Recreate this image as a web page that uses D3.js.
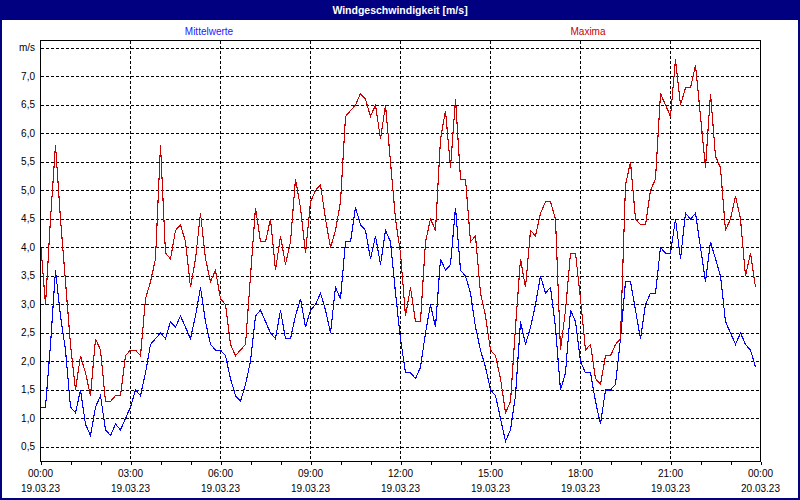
<!DOCTYPE html>
<html><head><meta charset="utf-8">
<script src="https://cdn.jsdelivr.net/npm/d3@7"></script>
<style>
html,body{margin:0;padding:0;background:#fff;}
svg{display:block;font-family:"Liberation Sans",Arial,sans-serif;}
</style></head>
<body>
<svg id="c" width="800" height="500"></svg>
<script>
// ---- data (10-minute values, 19.03.23 00:00 - 23:50) ----
const startTime = new Date(2023, 2, 19, 0, 0);
const stepMinutes = 10;
const mittelwerte = [
1.2,1.2,2.3,3.6,2.8,2.2,1.2,1.1,1.5,0.9,0.7,1.2,1.4,0.8,0.7,0.9,0.8,1.0,1.2,1.5,1.4,1.8,2.3,2.4,
2.5,2.4,2.7,2.6,2.8,2.6,2.4,2.8,3.3,2.7,2.3,2.2,2.2,2.1,1.7,1.4,1.3,1.6,2.0,2.8,2.9,2.7,2.5,2.4,
2.9,2.4,2.4,2.8,3.1,2.6,2.9,3.0,3.2,2.9,2.5,3.3,3.1,4.1,4.1,4.7,4.4,4.3,3.8,4.2,3.7,4.3,4.1,3.2,
2.4,1.8,1.8,1.7,1.9,2.5,3.0,2.6,3.8,3.6,3.7,4.7,3.6,3.5,3.2,2.6,2.2,1.9,1.5,1.4,1.0,0.6,0.8,1.4,
2.7,2.3,2.6,3.0,3.5,3.2,3.3,2.6,1.5,1.8,2.9,2.7,2.0,1.8,1.8,1.3,0.9,1.5,1.5,1.6,2.4,3.4,3.4,2.9,
2.4,3.0,3.2,3.2,4.0,3.9,3.9,4.5,3.8,4.6,4.5,4.6,4.0,3.4,4.1,3.8,3.5,2.7,2.5,2.3,2.5,2.3,2.2,1.9
];
const maxima = [
4.1,3.0,4.5,5.8,4.5,3.4,2.3,1.5,2.1,1.8,1.4,2.4,2.2,1.3,1.3,1.4,1.4,2.1,2.2,2.2,2.1,3.1,3.4,3.8,
5.8,3.9,3.8,4.3,4.4,4.1,3.3,3.8,4.6,3.8,3.4,3.6,3.1,3.0,2.3,2.1,2.2,2.3,3.5,4.7,4.1,4.1,4.5,3.6,
4.2,3.7,4.1,5.2,4.7,3.9,4.8,5.0,5.1,4.5,4.0,4.3,4.8,6.3,6.4,6.5,6.7,6.6,6.3,6.5,5.9,6.5,5.5,4.5,
3.9,2.8,3.3,2.7,2.7,4.1,4.5,4.3,5.9,6.4,5.4,6.6,5.2,5.2,4.1,4.2,3.2,2.8,2.2,2.1,1.7,1.1,1.3,2.6,
3.8,3.3,4.3,4.2,4.6,4.8,4.8,4.5,2.2,2.9,3.9,3.9,3.1,2.2,2.3,1.7,1.6,2.1,2.1,2.3,2.4,5.1,5.5,4.5,
4.4,4.4,5.0,5.2,6.7,6.5,6.3,7.3,6.5,6.8,6.8,7.2,6.3,5.4,6.7,5.6,5.4,4.3,4.5,4.9,4.5,3.5,3.9,3.3
];
const seriesNames = ["Mittelwerte", "Maxima"];
const timeLabels = ["00:00","03:00","06:00","09:00","12:00","15:00","18:00","21:00","00:00"];
const dateLabels = ["19.03.23","19.03.23","19.03.23","19.03.23","19.03.23","19.03.23","19.03.23","19.03.23","20.03.23"];
const yTickValues = [0.5,1.0,1.5,2.0,2.5,3.0,3.5,4.0,4.5,5.0,5.5,6.0,6.5,7.0,7.5];
const yTickLabels = ["0,5","1,0","1,5","2,0","2,5","3,0","3,5","4,0","4,5","5,0","5,5","6,0","6,5","7,0","m/s"];
const title = "Windgeschwindigkeit [m/s]";

// ---- drawing ----
const W = 800, H = 500;
const navy = "#000080", blue = "#0000ff", red = "#c80000";
const svg = d3.select("#c");
const endTime = d3.timeDay.offset(startTime, 1);
const times = mittelwerte.map((_, i) => d3.timeMinute.offset(startTime, i * stepMinutes));

const L = 40, R = 760, T = 40, B = 461;
const x = d3.scaleTime().domain([startTime, endTime]).range([L, R]);
const y = d3.scaleLinear().domain([0.254, 7.64]).range([B, T]);

svg.append("rect").attr("width", W).attr("height", H).attr("fill", "#fff");
// outer frame
svg.append("rect").attr("x", 1).attr("y", 1).attr("width", W - 2).attr("height", H - 2)
  .attr("fill", "none").attr("stroke", navy).attr("stroke-width", 2);
svg.append("rect").attr("x", 0).attr("y", 0).attr("width", W).attr("height", 20).attr("fill", navy);
svg.append("text").attr("x", W / 2).attr("y", 13.5).attr("text-anchor", "middle")
  .attr("fill", "#fff").attr("font-weight", "bold").attr("font-size", "10.5px").text(title);

// legend
svg.append("text").attr("x", 209).attr("y", 34.5).attr("text-anchor", "middle")
  .attr("fill", "#2020ff").attr("font-size", "10px").text(seriesNames[0]);
svg.append("text").attr("x", 588).attr("y", 34.5).attr("text-anchor", "middle")
  .attr("fill", red).attr("font-size", "10px").text(seriesNames[1]);

// horizontal grid
const g = svg.append("g").attr("shape-rendering", "crispEdges");
g.selectAll("line.h").data(yTickValues).join("line")
  .attr("x1", L + 1).attr("x2", R)
  .attr("y1", d => Math.round(y(d)) + 0.5).attr("y2", d => Math.round(y(d)) + 0.5)
  .attr("stroke", "#000").attr("stroke-dasharray", "3,2");
// vertical grid every 3 hours
const vTicks = d3.timeHour.every(3).range(d3.timeHour.offset(startTime, 3), endTime);
g.selectAll("line.v").data(vTicks).join("line")
  .attr("y1", T + 1).attr("y2", B)
  .attr("x1", d => Math.round(x(d)) + 0.5).attr("x2", d => Math.round(x(d)) + 0.5)
  .attr("stroke", "#000").attr("stroke-dasharray", "3,2");

// y labels
svg.selectAll("text.yl").data(yTickValues).join("text")
  .attr("x", 35).attr("y", d => y(d) + 3.5).attr("text-anchor", "end")
  .attr("font-size", "10px").attr("fill", "#000")
  .text((d, i) => yTickLabels[i]);

// lines
const line = d3.line().x((d, i) => x(times[i]) + 0.5).y(d => y(d));
svg.append("path").datum(mittelwerte).attr("d", line)
  .attr("fill", "none").attr("stroke", blue).attr("stroke-width", 1.1).attr("shape-rendering", "crispEdges");
svg.append("path").datum(maxima).attr("d", line)
  .attr("fill", "none").attr("stroke", red).attr("stroke-width", 1.1).attr("shape-rendering", "crispEdges");

// frame
svg.append("rect").attr("x", L + 0.5).attr("y", T + 0.5).attr("width", R - L).attr("height", B - T)
  .attr("fill", "none").attr("stroke", "#000").attr("shape-rendering", "crispEdges");

// bottom axis with hourly ticks
const ax = d3.axisBottom(x).tickValues(d3.timeHour.every(1).range(startTime, d3.timeMinute.offset(endTime, 1)))
  .tickSize(3).tickFormat("");
const axg = svg.append("g").attr("transform", `translate(0.5,${B + 0.5})`).call(ax);
axg.select(".domain").remove();
axg.selectAll("line").attr("stroke", "#000").attr("shape-rendering", "crispEdges");

const labelTimes = d3.timeHour.every(3).range(startTime, d3.timeMinute.offset(endTime, 1));
svg.selectAll("text.xt").data(labelTimes).join("text")
  .attr("x", d => x(d) + 0.5).attr("y", 477).attr("text-anchor", "middle")
  .attr("font-size", "10px").attr("fill", "#000").text((d, i) => timeLabels[i]);
svg.selectAll("text.xd").data(labelTimes).join("text")
  .attr("x", d => x(d) + 0.5).attr("y", 492).attr("text-anchor", "middle")
  .attr("font-size", "10px").attr("fill", "#000").text((d, i) => dateLabels[i]);
</script>
</body></html>
